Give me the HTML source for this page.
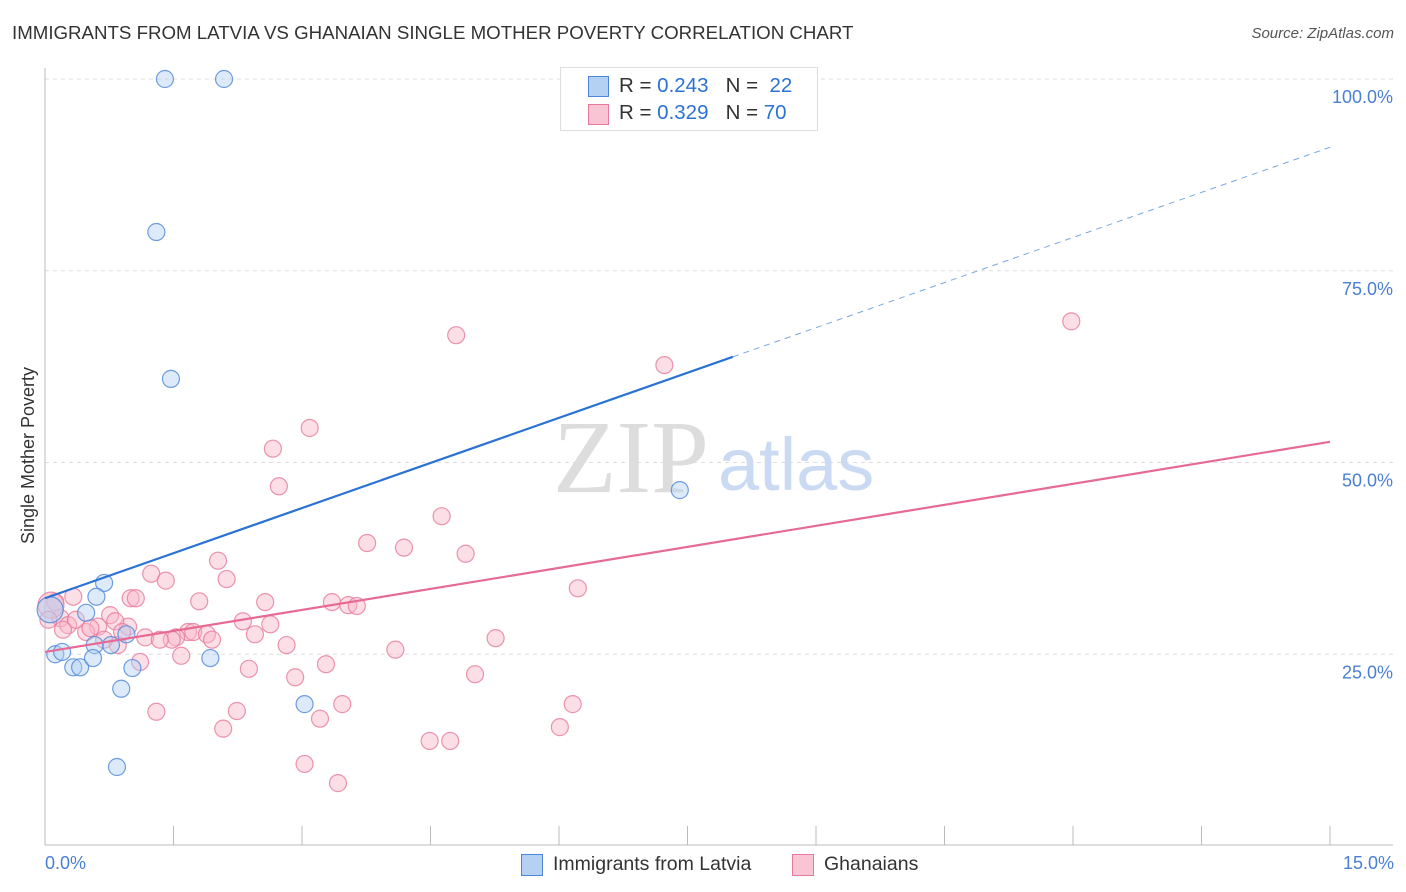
<!DOCTYPE html>
<html><head><meta charset="utf-8"><style>
body{margin:0;background:#fff;font-family:"Liberation Sans",sans-serif;}
#c{position:relative;width:1406px;height:892px;overflow:hidden}
.t{position:absolute;white-space:nowrap}
</style></head><body>
<div id="c">
<div class="t" style="left:12px;top:22px;font-size:18.7px;color:#333">IMMIGRANTS FROM LATVIA VS GHANAIAN SINGLE MOTHER POVERTY CORRELATION CHART</div>
<div class="t" style="right:12px;top:25px;font-size:15px;color:#555;font-style:italic">Source: ZipAtlas.com</div>
<svg id="s" width="1406" height="892" style="position:absolute;left:0;top:0"></svg>
</div>
<script>
const blueX=[1.40,2.09,1.30,1.47,7.41,0.69,0.60,0.48,0.95,0.77,0.58,0.12,0.20,0.33,0.41,0.56,1.02,1.93,0.89,3.03,0.84,0.06];
const blueY=[100.0,100.0,80.05,60.9,46.4,34.3,32.5,30.4,27.6,26.2,26.2,25.0,25.3,23.3,23.3,24.5,23.2,24.5,20.5,18.5,10.3,30.8];
const pinkX=[4.80,11.98,7.23,3.09,2.66,2.73,4.63,3.76,4.19,4.91,2.02,1.24,1.41,2.12,0.33,6.22,1.00,1.06,1.80,2.57,3.35,3.54,3.64,0.76,2.31,0.12,0.18,0.27,0.97,0.62,0.82,2.63,5.26,1.67,1.73,1.89,1.53,1.17,0.85,2.45,2.82,0.48,1.48,1.95,4.09,1.11,1.59,3.28,2.38,5.02,2.92,6.16,3.47,2.24,1.30,3.21,2.08,6.01,4.49,4.73,3.03,3.42,0.07,0.53,0.36,0.21,0.69,0.04,0.90,1.34];
const pinkY=[66.6,68.4,62.7,54.5,51.8,46.9,43.0,39.5,38.9,38.1,37.2,35.5,34.6,34.8,32.5,33.6,32.3,32.3,31.9,31.8,31.8,31.4,31.3,30.1,29.3,31.8,29.7,28.8,28.6,28.6,29.3,28.9,27.1,27.9,27.9,27.6,27.2,27.2,26.2,27.6,26.2,27.9,26.9,26.9,25.6,24.0,24.8,23.7,23.1,22.4,22.0,18.5,18.5,17.6,17.5,16.6,15.3,15.5,13.7,13.7,10.7,8.2,31.4,28.4,29.5,28.2,26.9,29.5,27.9,26.9];
const blueTrend=[32.3,91.1]; const blueSolidEnd=8.03;
const pinkTrend=[25.3,52.7];
const yTicks=[100,75,50,25];
const yTickLabels=["100.0%","75.0%","50.0%","25.0%"];
const xTickCount=10;
const NS="http://www.w3.org/2000/svg";
const s=document.getElementById('s');
const X=v=>45+v/15*1285, Y=v=>846-v*7.67;
function el(t,a,p){const e=document.createElementNS(NS,t);for(const k in a)e.setAttribute(k,a[k]);(p||s).appendChild(e);return e;}
yTicks.forEach((v,i)=>{
 const g=el('line',{x1:45,x2:1393,y1:Y(v),y2:Y(v),stroke:'#ddd','stroke-dasharray':'4,4'});
 
 
 const t=el('text',{x:1393,y:Y(v)+24,'text-anchor':'end','font-size':18,fill:'#4a7fd4','font-family':'Liberation Sans'});
 t.textContent=yTickLabels[i];
 
 
});
el('line',{x1:45,x2:45,y1:68,y2:845,stroke:'#bbb'});
el('line',{x1:45,x2:1393,y1:845,y2:845,stroke:'#bbb'});
for(let i=1;i<=xTickCount;i++){const xx=X(i*1.5);const tk=el('line',{x1:xx,x2:xx,y1:826,y2:845,stroke:'#bbb'});
 
 }
const w=el('text',{x:553,y:492,'font-size':104,fill:'#ddd','font-family':'Liberation Serif'});w.textContent='ZIP';


const w2=el('text',{x:718,y:490,'font-size':74,fill:'#c9daf2','font-family':'Liberation Sans'});w2.textContent='atlas';


function pts(xs,ys,fill,stroke,name){xs.forEach((x,i)=>{const big=(x<0.1&&i===xs.length-1)||(name==='pink-point'&&i===62);
 const c=el('circle',{cx:X(x),cy:Y(ys[i]),r:big?13:8.5,fill:fill,'fill-opacity':big?0.55:0.45,stroke:stroke,'stroke-width':1.2,'stroke-opacity':0.8});
 
 });}
pts(pinkX,pinkY,'#f9b6c9','#e67a9a','pink-point');
pts(blueX,blueY,'#b4d0f2','#4d86d8','blue-point');
const bt=v=>blueTrend[0]+(blueTrend[1]-blueTrend[0])*v/15;
const l1=el('line',{x1:X(0),y1:Y(bt(0)),x2:X(blueSolidEnd),y2:Y(bt(blueSolidEnd)),stroke:'#2a72d4','stroke-width':2.2});


const l2=el('line',{x1:X(blueSolidEnd),y1:Y(bt(blueSolidEnd)),x2:X(15),y2:Y(bt(15)),stroke:'#7aa6e0','stroke-width':1,'stroke-dasharray':'6,5'});


const l3=el('line',{x1:X(0),y1:Y(pinkTrend[0]),x2:X(15),y2:Y(pinkTrend[1]),stroke:'#e56a95','stroke-width':2.2});


</script>
<div class="t" style="left:-60px;top:445px;font-size:18px;color:#333;transform:rotate(-90deg)">Single Mother Poverty</div>
<div class="t" style="left:45px;top:853px;font-size:18px;color:#4a7fd4">0.0%</div>
<div class="t" style="right:12px;top:853px;font-size:18px;color:#4a7fd4">15.0%</div>
<div style="position:absolute;left:560px;top:67px;width:256px;height:62px;border:1px solid #ddd;background:#fff;font-size:20.5px;color:#333">
 <div style="position:absolute;left:27px;top:8px;width:19px;height:19px;background:#b4d0f2;border:1px solid #4d86d8"></div>
 <div class="t" style="left:58px;top:6px">R = <span style="color:#2a72d4">0.243</span> &nbsp; N = &nbsp;<span style="color:#2a72d4">22</span></div>
 <div style="position:absolute;left:27px;top:36px;width:19px;height:19px;background:#f9c4d3;border:1px solid #e67a9a"></div>
 <div class="t" style="left:58px;top:33px">R = <span style="color:#2a72d4">0.329</span> &nbsp; N = <span style="color:#2a72d4">70</span></div>
</div>
<div style="position:absolute;left:521px;top:853px;font-size:19.5px;color:#333">
 <div style="position:absolute;left:0;top:1px;width:20px;height:20px;background:#b4d0f2;border:1px solid #4d86d8"></div>
 <div class="t" style="left:32px;top:0">Immigrants from Latvia</div></div>
<div style="position:absolute;left:792px;top:853px;font-size:19.5px;color:#333">
 <div style="position:absolute;left:0;top:1px;width:20px;height:20px;background:#f9c4d3;border:1px solid #e67a9a"></div>
 <div class="t" style="left:32px;top:0">Ghanaians</div></div>
</body></html>
